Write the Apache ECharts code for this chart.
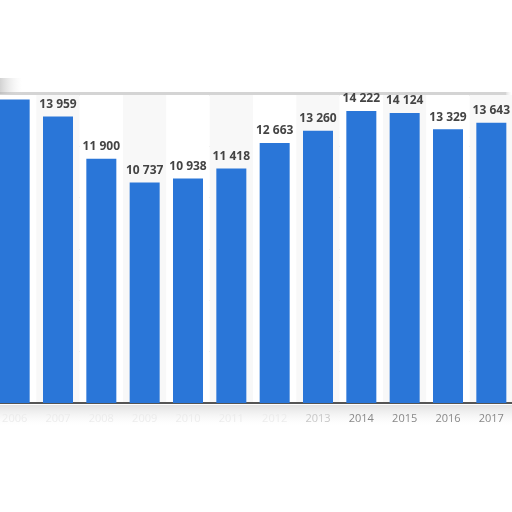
<!DOCTYPE html>
<html lang="en">
<head>
	<meta charset="UTF-8">
	<title>Chart</title>
	<script src="https://cdn.jsdelivr.net/npm/echarts@6/dist/echarts.min.js"></script>
	<style>
		html,body{margin:0;padding:0;background:#fff;}
		#main{width:512px;height:512px;}
	</style>
</head>
<body>
<div id="main"></div>
<script>
	var years = ['2006','2007','2008','2009','2010','2011','2012','2013','2014','2015','2016','2017'];
	var values = [14780, 13959, 11900, 10737, 10938, 11418, 12663, 13260, 14222, 14124, 13329, 13643];
	var yTicks = [0, 2500, 5000, 7500, 10000, 12500, 15000];

	//数字格式 13 959
	function fmt(v){
		return String(v).replace(/\B(?=(\d{3})+(?!\d))/g, ' ');
	}

	var myChart = echarts.init(document.getElementById('main'));
	var option = {
		backgroundColor:'#fff',
		animation:false,
		grid: {
			left: -7,
			width: 520,
			top: 95,
			bottom: 109,
			outerBoundsMode: 'none',
			containLabel: false
		},
		xAxis: {
			type: 'category',
			data: years,
			axisTick: {show:false},
			axisLine: {lineStyle:{color:'#555', width:2}},
			splitArea: {show:true, interval:0, areaStyle:{color:['#ffffff','#f8f8f8']}},
			axisLabel: {
				interval: 0,
				margin: 10,
				fontSize: 11,
				fontFamily: 'Open Sans',
				formatter: function(v){
					var y = parseInt(v, 10);
					if(y < 2013){ return '{faint|' + v + '}'; }
					if(y == 2013){ return '{mid|' + v + '}'; }
					return '{norm|' + v + '}';
				},
				rich: {
					faint: {color:'#ececec', fontSize:11},
					mid: {color:'#c8c8c8', fontSize:11},
					norm: {color:'#888', fontSize:11}
				}
			}
		},
		yAxis: {
			type: 'value',
			min: yTicks[0],
			max: yTicks[yTicks.length-1],
			interval: 2500,
			axisLabel: {show:false},
			axisLine: {show:false},
			axisTick: {show:false},
			splitLine: {lineStyle:{color:'#cfcfcf', type:'dotted', width:1}}
		},
		series: [
			{
				type: 'bar',
				data: values,
				barWidth: 30,
				itemStyle: {color:'#2a76d8'},
				label: {
					show: true,
					position: 'top',
					distance: 6,
					color: '#444',
					fontWeight: 'bold',
					fontSize: 12,
					fontFamily: 'Open Sans',
					formatter: function(p){
						return p.dataIndex == 0 ? '' : fmt(p.value);
					}
				}
			}
		],
		graphic: [
			{
				type: 'rect',
				shape: {x:0, y:92, width:506, height:3},
				style: {fill:'#d4d4d4'},
				silent: true
			},
			{
				type: 'rect',
				shape: {x:0, y:78, width:22, height:16},
				style: {fill:{type:'linear', x:0, y:0, x2:1, y2:0, colorStops:[{offset:0, color:'rgba(180,180,180,0.6)'},{offset:1, color:'rgba(230,230,230,0)'}]}},
				silent: true
			},
			{
				type: 'rect',
				shape: {x:0, y:405, width:512, height:20},
				style: {fill:{type:'linear', x:0, y:0, x2:0, y2:1, colorStops:[{offset:0, color:'rgba(200,200,200,0.55)'},{offset:1, color:'rgba(235,235,235,0)'}]}},
				silent: true,
				z: -1
			},
			{
				type: 'rect',
				shape: {x:506, y:92, width:6, height:311},
				style: {fill:{type:'linear', x:0, y:0, x2:1, y2:0, colorStops:[{offset:0, color:'rgba(200,200,200,0.6)'},{offset:1, color:'rgba(240,240,240,0)'}]}},
				silent: true
			}
		]
	};
	myChart.setOption(option);
</script>
</body>
</html>
